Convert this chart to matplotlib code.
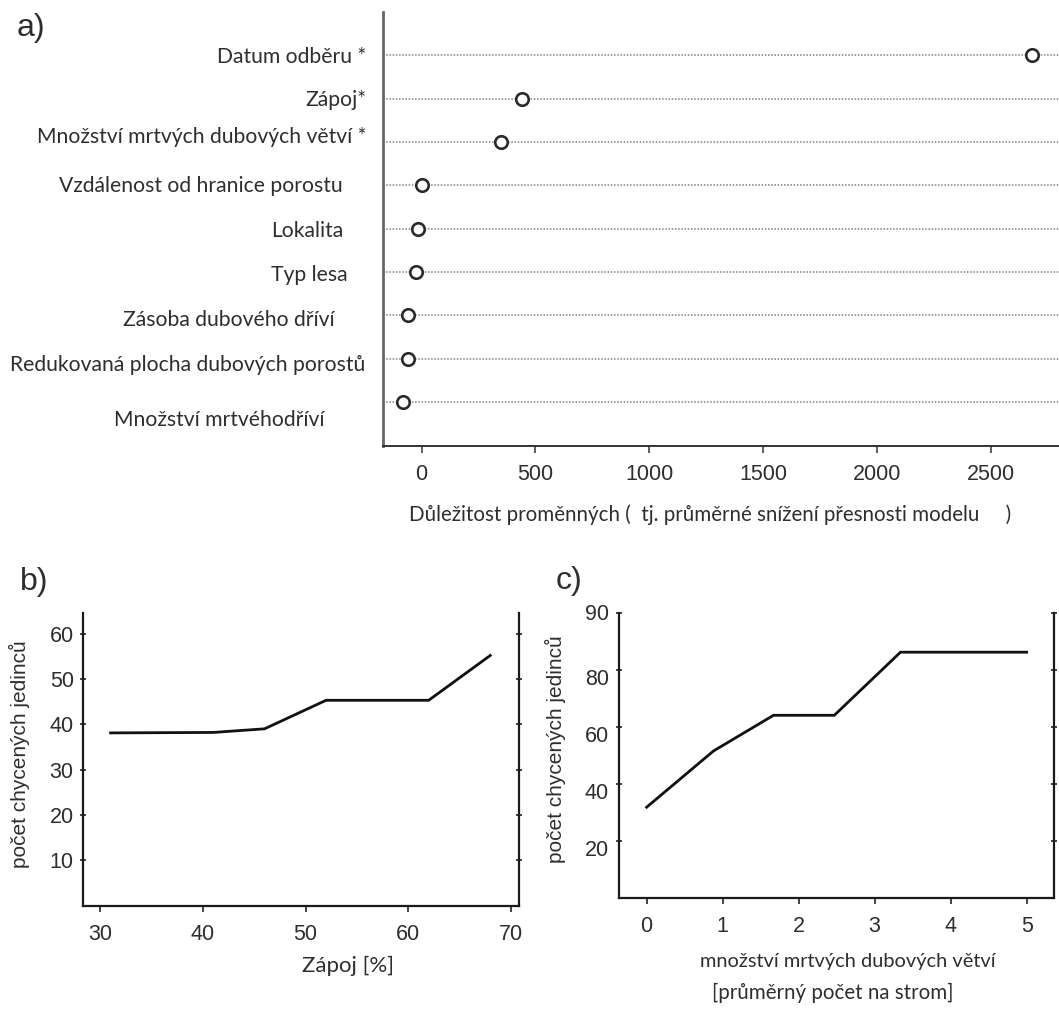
import matplotlib.pyplot as plt
from matplotlib.transforms import ScaledTranslation

# a) důležitost proměnných (random forest)
promenne = [
    "Datum odběru *",
    "Zápoj*",
    "Množství mrtvých dubových větví *",
    "Vzdálenost od hranice porostu",
    "Lokalita",
    "Typ lesa",
    "Zásoba dubového dříví",
    "Redukovaná plocha dubových porostů",
    "Množství mrtvéhodříví",
]
dulezitost = [2681, 440, 349, 0, -15, -26, -59, -59, -81]
a_xticks = [0, 500, 1000, 1500, 2000, 2500]

# b) závislost na zápoji
zapoj = [31, 41, 46, 52, 62, 68]
pocet_zapoj = [38.1, 38.2, 39.0, 45.3, 45.3, 55.2]
b_xticks = [30, 40, 50, 60, 70]
b_yticks = [10, 20, 30, 40, 50, 60]

# c) závislost na množství mrtvých dubových větví
vetve = [0, 0.88, 1.67, 2.47, 3.34, 5.0]
pocet_vetve = [31.8, 51.5, 64.0, 64.0, 86.1, 86.1]
c_xticks = [0, 1, 2, 3, 4, 5]
c_yticks = [20, 40, 60, 80, 100]
c_yticklabels = ["20", "40", "60", "80", "90"]

# posun popisků proměnných (px od osy, px svisle)
label_dx = [-16, -16, -16, -40, -39, -35, -48, -17, -58]
label_dy = [-2, -1, 5, -1, -2, -3, -5, -6, -18]

W, H = 1059, 1010
fig = plt.figure(figsize=(W / 100, H / 100), dpi=100)

num_font = "Liberation Sans"
txt_font = "Lato"
gray = "#2e2e2e"


def axes_px(left, top, right, bottom):
    return fig.add_axes([left / W, 1 - bottom / H, (right - left) / W, (bottom - top) / H])


# ---------- a) ----------
ax = axes_px(382.7, 11.7, W, 445.7)
rows = list(range(len(promenne), 0, -1))
ax.set_xlim(-171, 2800)
ax.set_ylim(0, 10)
for r in rows:
    ax.axhline(r, color="#808080", lw=1.1, ls=(0, (1, 1.1)), zorder=1)
ax.plot(dulezitost, rows, "o", mfc="white", mec="#2b2b2b", ms=9, mew=1.9, zorder=3)
ax.set_yticks([])
ax.set_xticks(a_xticks)
ax.set_xticklabels([str(t) for t in a_xticks], fontfamily=num_font, fontsize=15.5, color=gray)
ax.tick_params(axis="x", direction="out", length=5, width=1.2, color="#444444", pad=8)
for s in ["top", "right"]:
    ax.spines[s].set_visible(False)
ax.spines["left"].set_color("#666666")
ax.spines["left"].set_linewidth(2.0)
ax.spines["bottom"].set_color("#333333")
ax.spines["bottom"].set_linewidth(1.4)
for name, r, dx, dy in zip(promenne, rows, label_dx, label_dy):
    ax.annotate(name, xy=(0, r), xycoords=("axes fraction", "data"),
                xytext=(dx, dy), textcoords="offset pixels",
                ha="right", va="center", fontfamily=txt_font, fontsize=15.2, color=gray)
ax.set_xlabel("Důležitost proměnných (  tj. průměrné snížení přesnosti modelu     )",
              fontfamily=txt_font, fontsize=14.8, color=gray, ha="left", va="center")
ax.xaxis.set_label_coords((409 - 382.7) / (W - 382.7), -(515 - 445.7) / (445.7 - 11.7))
fig.text(31 / W, 1 - 28 / H, "a)", fontfamily=num_font, fontsize=23, color=gray,
         ha="center", va="center")


def partial_plot(ax, x, y, xlim, ylim, xticks, yticks, yticklabels):
    ax.plot(x, y, color="#111111", lw=2.0, solid_joinstyle="miter")
    ax.set_xlim(*xlim)
    ax.set_ylim(*ylim)
    ax.set_xticks(xticks)
    ax.set_xticklabels([str(t) for t in xticks], fontfamily=num_font, fontsize=15.5, color=gray)
    ax.set_yticks(yticks)
    ax.set_yticklabels(yticklabels, fontfamily=num_font, fontsize=15.5, color=gray)
    ax.tick_params(axis="both", direction="out", length=4, width=1.2, color="#222222", pad=5)
    ax.tick_params(axis="x", pad=9)
    ax.tick_params(axis="y", right=True, direction="inout", length=4)
    ax.spines["top"].set_visible(False)
    for s in ["left", "bottom", "right"]:
        ax.spines[s].set_linewidth(1.6)
        ax.spines[s].set_color("#1a1a1a")
    ax.set_ylabel("počet chycených jedinců", fontfamily=num_font, fontsize=15, color=gray)


# ---------- b) ----------
axb = axes_px(83.4, 613.3, 518.6, 905.5)
partial_plot(axb, zapoj, pocet_zapoj, (28.35, 70.76), (0, 64.5), b_xticks, b_yticks,
             [str(t) for t in b_yticks])
axb.yaxis.set_label_coords(-(83.4 - 30) / (518.6 - 83.4), (905.5 - 754) / (905.5 - 613.3))
axb.set_xlabel("Zápoj [%]", fontfamily=txt_font, fontsize=16, color=gray, va="center")
axb.xaxis.set_label_coords((348 - 83.4) / (518.6 - 83.4), -(966 - 905.5) / (905.5 - 613.3))
fig.text(34 / W, 1 - 582 / H, "b)", fontfamily=num_font, fontsize=23, color=gray,
         ha="center", va="center")

# ---------- c) ----------
axc = axes_px(618.5, 612.5, 1054, 898)
partial_plot(axc, vetve, pocet_vetve, (-0.37, 5.36), (0, 100), c_xticks, c_yticks,
             c_yticklabels)
# popisky osy y v c) sedí o kousek níž než značky
shift = ScaledTranslation(0, -7 / 100, fig.dpi_scale_trans)
for lab in axc.get_yticklabels()[:-1]:
    lab.set_transform(lab.get_transform() + shift)
axc.yaxis.set_label_coords(-(618.5 - 566.5) / (1054 - 618.5), (898 - 749) / (898 - 612.5))
axc.set_xlabel("množství mrtvých dubových větví", fontfamily=txt_font, fontsize=14.4,
               color=gray, va="center")
axc.xaxis.set_label_coords((848 - 618.5) / (1054 - 618.5), -(962 - 898) / (898 - 612.5))
fig.text(833 / W, 1 - 993 / H, "[průměrný počet na strom]", fontfamily=txt_font,
         fontsize=14.8, color=gray, ha="center", va="center")
fig.text(569 / W, 1 - 581 / H, "c)", fontfamily=num_font, fontsize=23, color=gray,
         ha="center", va="center")

fig.savefig("out.png", dpi=100)
